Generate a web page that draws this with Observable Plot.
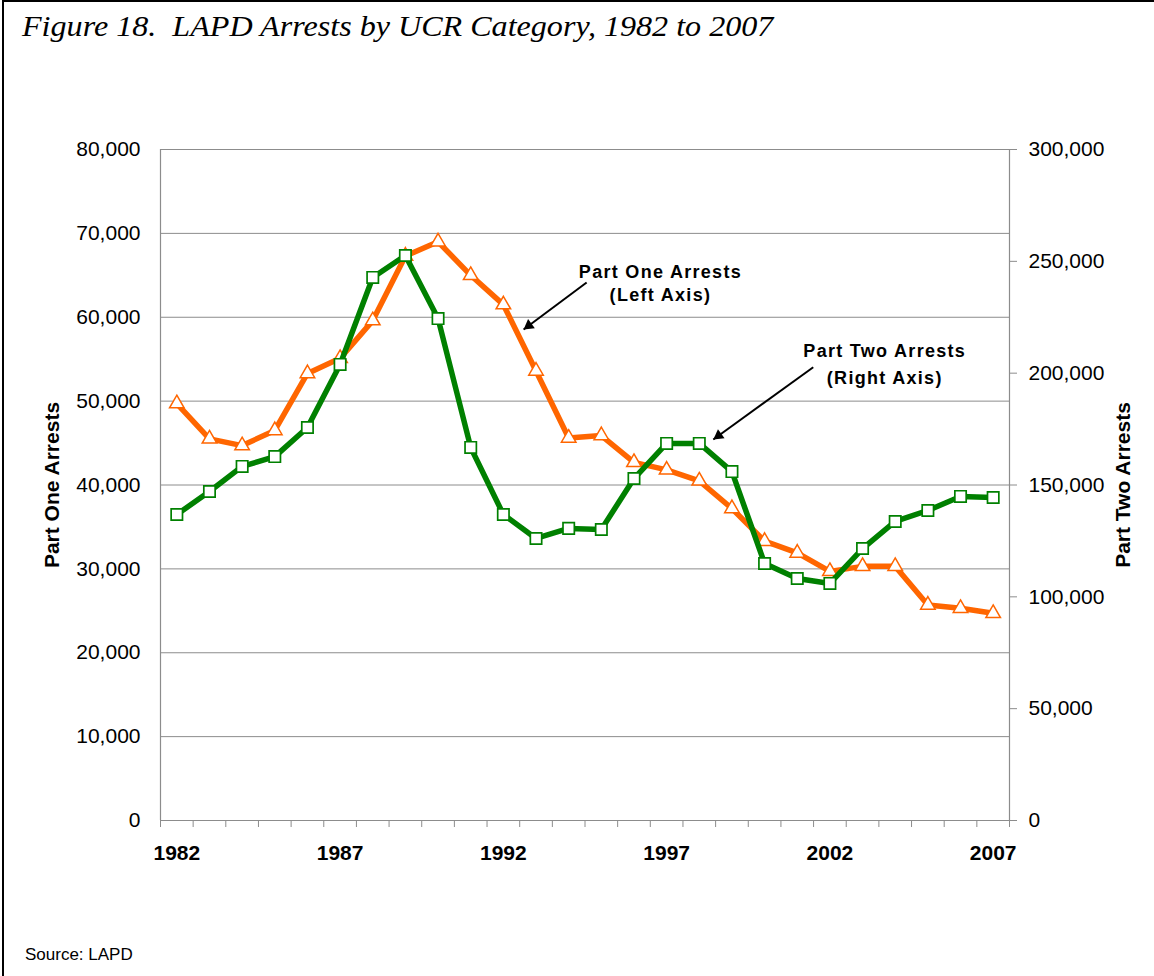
<!DOCTYPE html>
<html><head><meta charset="utf-8">
<script src="https://cdn.jsdelivr.net/npm/d3@7"></script>
<script src="https://cdn.jsdelivr.net/npm/@observablehq/plot@0.6"></script>
<style>
body{margin:0;background:#fff;}
#wrap{position:relative;width:1154px;height:976px;overflow:hidden;background:#fff;}
#frame{position:absolute;left:2px;top:0;width:1200px;height:1100px;border-left:2px solid #000;border-top:2px solid #000;}
#title{position:absolute;left:22px;top:9px;font:italic 30px "Liberation Serif","Times New Roman",serif;white-space:pre;transform:scaleX(1.07);transform-origin:0 0;}
#source{position:absolute;left:25px;top:945px;font:17px "Liberation Sans",Arial,sans-serif;}
#chart{position:absolute;left:0;top:0;}
</style></head>
<body>
<div id="wrap">
  <div id="frame"></div>
  <div id="chart"></div>
  <div id="title">Figure 18.  LAPD Arrests by UCR Category, 1982 to 2007</div>
  <div id="source">Source: LAPD</div>
</div>
<script>
const years = [1982,1983,1984,1985,1986,1987,1988,1989,1990,1991,1992,1993,1994,1995,1996,1997,1998,1999,2000,2001,2002,2003,2004,2005,2006,2007];
const partOne = [49700,45500,44700,46500,53300,55100,59600,67300,69000,65000,61500,53600,45600,45900,42700,41800,40500,37200,33300,31900,29700,30300,30300,25700,25300,24700];
const partTwo = [136800,147100,158300,162700,175700,203900,242800,252600,224400,166800,136800,126100,130600,130100,152900,168600,168600,156000,114900,108200,106000,121600,133700,138600,144900,144400];
const leftTicks = [0,10000,20000,30000,40000,50000,60000,70000,80000];
const rightTicks = [0,50000,100000,150000,200000,250000,300000];
const xLabels = [1982,1987,1992,1997,2002,2007];
const leftMax = 80000, rightMax = 300000;
const annotations = [
  {x:1996.81, y:64739, text:"Part One Arrests"},
  {x:1996.81, y:61997, text:"(Left Axis)"},
  {x:2003.68, y:55320, text:"Part Two Arrests"},
  {x:2003.68, y:52101, text:"(Right Axis)"}
];
const arrows = [
  {x1:1994.55, y1:64143, x2:1992.62, y2:58540},
  {x1:2001.49, y1:54045, x2:1998.43, y2:45425}
];

const W = 1154, H = 976, mL = 160, mR = 145, mT = 149, mB = 156;
const xDomain = [years[0]-0.5, years[years.length-1]+0.5];
const data = years.map((yr,i)=>({year:yr, one:partOne[i], two:partTwo[i]}));
const toLeft = v => v * leftMax / rightMax;
const boundaries = d3.range(years[0]-0.5, years[years.length-1]+1, 1);
const gray = "#8c8c8c";
const orange = "#FF6600", green = "#008000";
const font = "'Liberation Sans', Arial, sans-serif";

// scales matching the plot, used to orient the filled arrowheads
const sx = Plot.scale({x: {domain: xDomain, range: [mL, W - mR]}});
const sy = Plot.scale({y: {domain: [0, leftMax], range: [H - mB, mT]}});
const headR = 4.2;
const heads = arrows.map(a => {
  const px1 = sx.apply(a.x1), py1 = sy.apply(a.y1), px2 = sx.apply(a.x2), py2 = sy.apply(a.y2);
  const dx = px2 - px1, dy = py2 - py1, len = Math.hypot(dx, dy);
  const size = Math.PI * headR * headR;
  const cdist = 2 * Math.sqrt(size / (3 * Math.sqrt(3)));
  const cx = px2 - dx / len * cdist, cy = py2 - dy / len * cdist;
  return {x: sx.invert(cx), y: sy.invert(cy), angle: Math.atan2(dx, -dy) * 180 / Math.PI};
});

const chart = Plot.plot({
  width: W,
  height: H,
  marginLeft: mL,
  marginRight: mR,
  marginTop: mT,
  marginBottom: mB,
  style: {fontFamily: font, color: "#000", background: "transparent"},
  x: {domain: xDomain},
  y: {domain: [0, leftMax]},
  marks: [
    Plot.gridY(leftTicks.slice(1), {stroke: gray, strokeOpacity: 1, strokeWidth: 1}),
    Plot.ruleX(xDomain, {stroke: gray, strokeWidth: 1.2}),
    Plot.ruleY([0], {stroke: gray, strokeWidth: 1.2}),
    Plot.axisY({anchor: "left", ticks: leftTicks, tickSize: 0, tickPadding: 20, fontSize: 21, tickFormat: d3.format(","), label: null}),
    Plot.axisY({anchor: "right", ticks: rightTicks.map(toLeft), tickSize: 7, tickPadding: 12, fontSize: 21, stroke: gray,
      tickFormat: d => d3.format(",")(Math.round(d * rightMax / leftMax)), label: null}),
    Plot.axisX({anchor: "bottom", ticks: boundaries, tickSize: 7, stroke: gray, tickFormat: () => "", label: null}),
    Plot.axisX({anchor: "bottom", ticks: xLabels, tickSize: 0, tickPadding: 25, fontSize: 21, fontWeight: "bold", tickFormat: d => String(d), label: null}),
    Plot.text(["Part One Arrests"], {frameAnchor: "left", textAnchor: "middle", dx: -108, rotate: -90, fontSize: 21, fontWeight: "bold"}),
    Plot.text(["Part Two Arrests"], {frameAnchor: "right", textAnchor: "middle", dx: 114, rotate: -90, fontSize: 21, fontWeight: "bold"}),
    Plot.line(data, {x: "year", y: "one", stroke: orange, strokeWidth: 5.5}),
    Plot.dot(data, {x: "year", y: "one", symbol: "triangle", r: 5.4, fill: "white", stroke: orange, strokeWidth: 1.5}),
    Plot.line(data, {x: "year", y: d => toLeft(d.two), stroke: green, strokeWidth: 5.5}),
    Plot.dot(data, {x: "year", y: d => toLeft(d.two), symbol: "square", r: 6.4, fill: "white", stroke: green, strokeWidth: 1.7}),
    Plot.link(arrows, {x1: "x1", y1: "y1", x2: "x2", y2: "y2", stroke: "#000", strokeWidth: 2}),
    Plot.dot(heads, {x: "x", y: "y", symbol: "triangle", r: headR, rotate: "angle", fill: "#000", stroke: "none"}),
    Plot.text(annotations, {x: "x", y: "y", text: "text", fontSize: 18, fontWeight: "bold", lineAnchor: "bottom", textAnchor: "middle", fill: "#000", className: "annot"})
  ]
});
d3.select(chart).selectAll(".annot text").style("letter-spacing", "1.3px");
document.getElementById("chart").appendChild(chart);
</script>
</body></html>
